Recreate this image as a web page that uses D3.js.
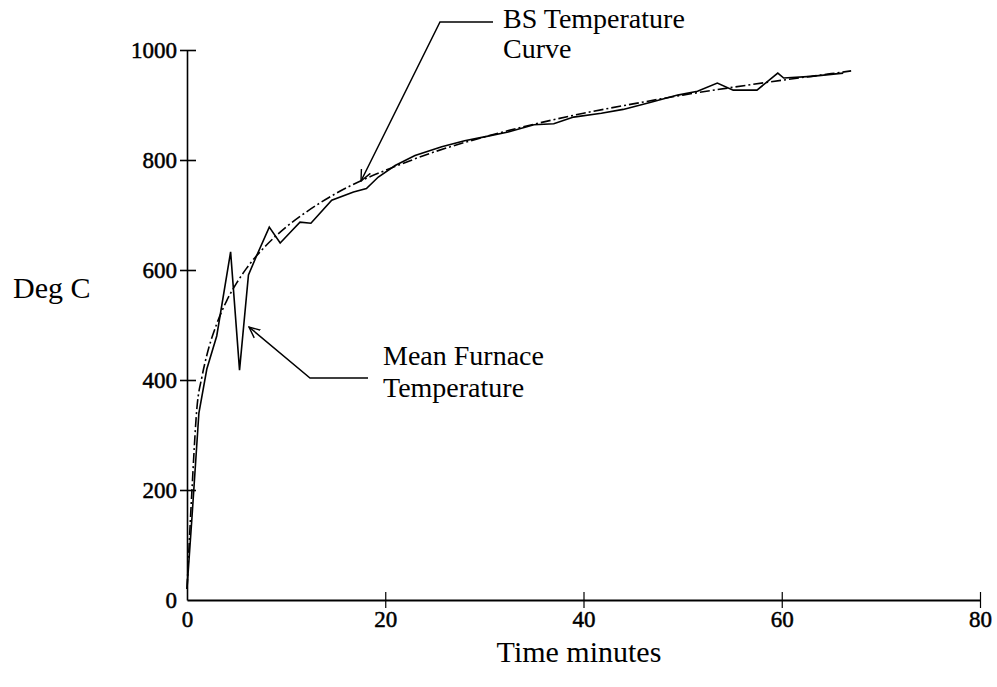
<!DOCTYPE html>
<html><head><meta charset="utf-8">
<script src="https://cdn.jsdelivr.net/npm/d3@7"></script>
<style>body{margin:0;background:#fff}svg{display:block}text{font-family:"Liberation Serif","Times New Roman",serif;fill:#000}</style>
</head><body><svg id="c" width="997" height="687"></svg>
<script>
const xTicks = [0, 20, 40, 60, 80];
const yTicks = [0, 200, 400, 600, 800, 1000];
const bsTime = [0, 0.5, 1, 1.5, 2, 3, 4, 5, 6, 8, 10, 12, 15, 18, 20, 25, 30, 35, 40, 45, 50, 55, 60, 65, 67];
const bsTemp = [20, 200, 349, 405, 445, 502, 544, 576, 603, 645, 678, 705, 739, 766, 781, 815, 842, 865, 885, 902, 918, 932, 945, 957, 962];
const furnTime = [0, 0.5, 1.2, 2, 3, 4.4, 5.3, 6.2, 7, 8.3, 9.4, 10.5, 11.4, 12.5, 14.6, 16.8, 18.1, 19.3, 21, 23, 25.7, 28, 30, 32.4, 35, 37, 39, 41.8, 44, 46.8, 49.5, 51.5, 53.5, 55.1, 57.5, 59.6, 60.2, 63, 66.2];
const furnTemp = [20, 150, 340, 420, 480, 633, 418, 591, 625, 678, 649, 670, 687, 685, 727, 742, 748, 769, 790, 808, 824, 835, 842, 851, 864, 866, 878, 885, 892, 905, 918, 925, 940, 927, 927, 958, 949, 952, 958];

const svg = d3.select("#c");
const x = d3.scaleLinear().domain([0, 80]).range([187, 980]);
const y = d3.scaleLinear().domain([0, 1000]).range([600, 50]);

// axes
const gx = svg.append("g").attr("transform", "translate(0,600)")
  .call(d3.axisBottom(x).tickValues(xTicks).tickFormat(d3.format("d")).tickSize(0).tickPadding(11));
gx.select(".domain").attr("stroke", "#000").attr("stroke-width", 2.2);
gx.selectAll(".tick text").attr("font-size", 23).attr("font-family", "Liberation Serif")
  .attr("stroke", "#000").attr("stroke-width", 0.5);
gx.selectAll(".tick").filter(d => d > 0).append("line").attr("y1", -8).attr("y2", 8).attr("stroke", "#000").attr("stroke-width", 1.2);

const gy = svg.append("g").attr("transform", "translate(187,0)")
  .call(d3.axisLeft(y).tickValues(yTicks).tickFormat(d3.format("d")).tickSize(0).tickPadding(10));
gy.select(".domain").attr("stroke", "#000").attr("stroke-width", 1.6);
gy.selectAll(".tick text").attr("font-size", 23).attr("font-family", "Liberation Serif")
  .attr("stroke", "#000").attr("stroke-width", 0.5);
gy.selectAll(".tick").filter(d => d > 0).append("line").attr("x1", -7).attr("x2", 9).attr("stroke", "#000").attr("stroke-width", 1.6);

// series
svg.append("path").datum(bsTime.map((t, i) => [t, bsTemp[i]]))
  .attr("d", d3.line().x(d => x(d[0])).y(d => y(d[1])).curve(d3.curveMonotoneX))
  .attr("fill", "none").attr("stroke", "#000")
  .attr("stroke-width", 1.6).attr("stroke-dasharray", "10,3,2,3");
svg.append("path").datum(furnTime.map((t, i) => [t, furnTemp[i]]))
  .attr("d", d3.line().x(d => x(d[0])).y(d => y(d[1]))).attr("fill", "none").attr("stroke", "#000")
  .attr("stroke-width", 1.6);

// titles
svg.append("text").attr("x", 13).attr("y", 298).attr("font-size", 30).text("Deg C");
svg.append("text").attr("x", 579).attr("y", 662).attr("font-size", 30).attr("text-anchor", "middle").text("Time minutes");

// annotations
const defs = svg.append("defs");
defs.append("marker").attr("id", "ah").attr("viewBox", "0 0 12 12").attr("refX", 11).attr("refY", 6)
  .attr("markerWidth", 12).attr("markerHeight", 12).attr("markerUnits", "userSpaceOnUse").attr("orient", "auto")
  .append("path").attr("d", "M0,1 L11,6 L0,11").attr("fill", "none").attr("stroke", "#000").attr("stroke-width", 1.4);

svg.append("text").attr("x", 503).attr("y", 28).attr("font-size", 28).text("BS Temperature");
svg.append("text").attr("x", 503).attr("y", 58).attr("font-size", 28).text("Curve");
svg.append("polyline").attr("points", "493,22 440,22 361,181").attr("fill", "none").attr("stroke", "#000")
  .attr("stroke-width", 1.5).attr("marker-end", "url(#ah)");

svg.append("text").attr("x", 383).attr("y", 365).attr("font-size", 28).text("Mean Furnace");
svg.append("text").attr("x", 383).attr("y", 397).attr("font-size", 28).text("Temperature");
svg.append("polyline").attr("points", "368,378 310,378 249,327").attr("fill", "none").attr("stroke", "#000")
  .attr("stroke-width", 1.5).attr("marker-end", "url(#ah)");
</script></body></html>
